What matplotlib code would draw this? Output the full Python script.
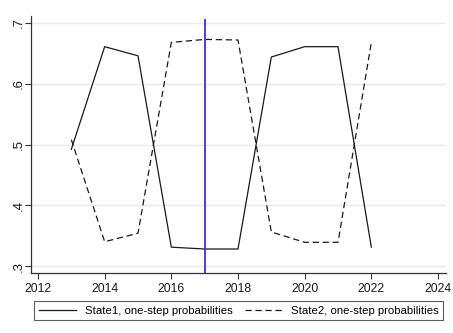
import matplotlib
matplotlib.use('Agg')
import matplotlib.pyplot as plt
from matplotlib.ticker import FixedLocator

plt.rcParams['font.family'] = ['Liberation Sans', 'DejaVu Sans']

years = [2013, 2014, 2015, 2016, 2017, 2018, 2019, 2020, 2021, 2022]
state1 = [0.492, 0.661, 0.646, 0.331, 0.328, 0.328, 0.644, 0.661, 0.661, 0.331]
state2 = [0.508, 0.340, 0.354, 0.668, 0.673, 0.672, 0.356, 0.339, 0.339, 0.668]
vline_year = 2017
vline_top = 0.705

xticks = [2012, 2014, 2016, 2018, 2020, 2022, 2024]
yticks = [0.3, 0.4, 0.5, 0.6, 0.7]
ylabels = ['.3', '.4', '.5', '.6', '.7']

W, H = 453, 333
fig = plt.figure(figsize=(W / 100, H / 100), dpi=100)
ax = fig.add_axes([31 / W, 1 - 273 / H, (446 - 31) / W, (273 - 16) / H])

ylim = (0.2885, 0.7115)
ax.set_xlim(2011.79, 2024.24)
ax.set_ylim(*ylim)

for y in yticks:
    ax.axhline(y, color='#eaeaea', lw=1.0, zorder=0)

l1, = ax.plot(years, state1, color='#1a1a1a', lw=0.9,
              label='State1, one-step probabilities')
l2, = ax.plot(years, state2, color='#1a1a1a', lw=0.9, dashes=(5, 3),
              label='State2, one-step probabilities')
ax.plot([vline_year, vline_year], [ylim[0], vline_top], color='#3030ff', lw=1.3)

ax.xaxis.set_major_locator(FixedLocator(xticks))
ax.set_xticklabels([str(x) for x in xticks])
ax.yaxis.set_major_locator(FixedLocator(yticks))
ax.set_yticklabels(ylabels, rotation=90, va='center')

for s in ['top', 'right']:
    ax.spines[s].set_visible(False)
for s in ['left', 'bottom']:
    ax.spines[s].set_color('#333333')
    ax.spines[s].set_linewidth(0.9)
ax.tick_params(axis='both', length=4, width=0.8, color='#333333',
               labelsize=8.7, labelcolor='#1a1a1a', pad=3)
ax.tick_params(axis='y', labelsize=9.5, pad=0.3)

leg = fig.legend(handles=[l1, l2], loc='center', ncol=2,
                 bbox_to_anchor=(238.7 / W, 1 - 310.5 / H),
                 fontsize=8.2, frameon=True, fancybox=False,
                 edgecolor='#333333', handlelength=3.3,
                 columnspacing=1.1, handletextpad=0.73,
                 borderpad=0.4, borderaxespad=0)
leg.get_frame().set_linewidth(0.8)

fig.savefig('out.png', dpi=100)
